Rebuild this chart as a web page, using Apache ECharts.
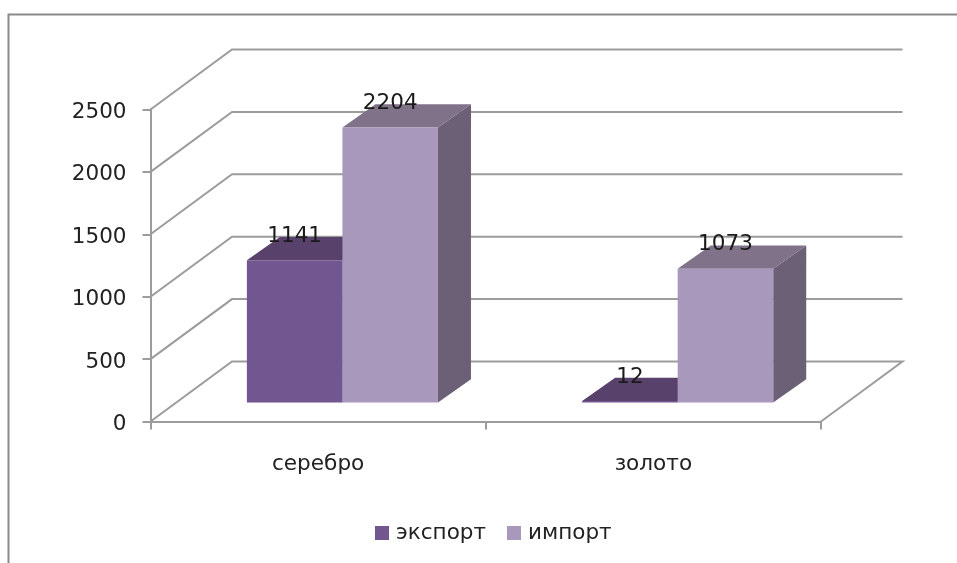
<!DOCTYPE html>
<html>
<head>
<meta charset="utf-8">
<style>html,body{margin:0;padding:0;background:#fff}#c{width:957px;height:563px}</style>
<script src="https://cdn.jsdelivr.net/npm/echarts@6/dist/echarts.min.js"></script>
</head>
<body>
<div id="c"></div>
<script>
const categories = ['серебро', 'золото'];
const exportValues = [1141, 12];
const importValues = [2204, 1073];
const yTicks = [0, 500, 1000, 1500, 2000, 2500];
const seriesNames = ['экспорт', 'импорт'];

const FONT = '"DejaVu Sans", sans-serif';
const TEXT = '#222222';
const LINE = '#9c9c9c';
const WALL = [81.5, -60];     // back wall offset from the front axes
const FLOOR = [24.3, -18.9];  // bar front plane offset from the front axes
const DEPTH = [33, -23.3];    // bar depth
const BAR_RATIO = 0.285;

const chart = echarts.init(document.getElementById('c'), null, {renderer: 'canvas'});

function wallItem(params, api) {
  const cs = params.coordSys;
  const y = api.coord([0, api.value(1)])[1];
  const x0 = cs.x, x1 = cs.x + cs.width;
  const pts = [[x0, y], [x0 + WALL[0], y + WALL[1]], [x1 + WALL[0], y + WALL[1]]];
  if (api.value(1) === 0) pts.push([x1, y]);
  return {type: 'polyline', shape: {points: pts}, style: {stroke: LINE, lineWidth: 2, fill: null}};
}

function barItem(slot, front, top, side) {
  return function (params, api) {
    const p = api.coord([api.value(0), api.value(1)]);
    const base = api.coord([api.value(0), 0]);
    const w = api.size([1, 0])[0] * BAR_RATIO;
    const xl = p[0] + FLOOR[0] + (slot === 0 ? -w : 0);
    const xr = xl + w;
    const yt = p[1] + FLOOR[1];
    const yb = base[1] + FLOOR[1];
    const [dx, dy] = DEPTH;
    return {
      type: 'group',
      children: [
        {type: 'polygon', shape: {points: [[xr, yt], [xr + dx, yt + dy], [xr + dx, yb + dy], [xr, yb]]}, style: {fill: side}},
        {type: 'polygon', shape: {points: [[xl, yt], [xl + dx, yt + dy], [xr + dx, yt + dy], [xr, yt]]}, style: {fill: top}},
        {type: 'rect', shape: {x: xl, y: yt, width: w, height: yb - yt}, style: {fill: front}},
        {type: 'text', z2: 100, style: {
          text: String(api.value(1)), x: (xl + xr) / 2, y: yt - 24,
          fill: '#1a1a1a', font: '21.5px ' + FONT, textAlign: 'center', textVerticalAlign: 'middle'
        }}
      ]
    };
  };
}

chart.setOption({
  animation: false,
  backgroundColor: '#ffffff',
  graphic: [{
    type: 'polyline', silent: true,
    shape: {points: [[8.5, 563], [8.5, 14.5], [957, 14.5]]},
    style: {stroke: '#8a8a8a', lineWidth: 2, fill: null}
  }],
  grid: {left: 150.5, top: 109.5, width: 670.5, height: 312},
  legend: {
    left: 370, top: 517, itemWidth: 14, itemHeight: 14, itemGap: 21, icon: 'rect',
    data: seriesNames,
    textStyle: {fontFamily: FONT, fontSize: 21.5, color: TEXT, padding: [0, 0, 0, 2]}
  },
  xAxis: {
    type: 'category', data: categories,
    axisLine: {lineStyle: {color: LINE, width: 2}},
    axisTick: {show: true, length: 8, lineStyle: {color: LINE, width: 2}},
    axisLabel: {fontFamily: FONT, fontSize: 21.6, color: TEXT, margin: 32}
  },
  yAxis: {
    type: 'value', min: 0, max: 2500, interval: 500,
    splitLine: {show: false},
    axisLine: {show: true, lineStyle: {color: LINE, width: 2}},
    axisTick: {show: true, length: 8, lineStyle: {color: LINE, width: 2}},
    axisLabel: {fontFamily: FONT, fontSize: 21.5, color: TEXT, margin: 24, verticalAlign: 'top', lineHeight: 6, formatter: v => String(v)}
  },
  series: [
    {
      type: 'custom', name: 'walls', silent: true, clip: false, z: 1,
      renderItem: wallItem, data: yTicks.map(v => [0, v]), encode: {x: 0, y: 1}
    },
    {
      type: 'custom', name: seriesNames[0], clip: false, z: 2,
      itemStyle: {color: '#72568f'},
      renderItem: barItem(0, '#72568f', '#58426c', '#574569'),
      data: exportValues.map((v, i) => [i, v]), encode: {x: 0, y: 1}
    },
    {
      type: 'custom', name: seriesNames[1], clip: false, z: 3,
      itemStyle: {color: '#a898bb'},
      renderItem: barItem(1, '#a898bb', '#7f7289', '#6c6076'),
      data: importValues.map((v, i) => [i, v]), encode: {x: 0, y: 1}
    }
  ]
});
</script>
</body>
</html>
